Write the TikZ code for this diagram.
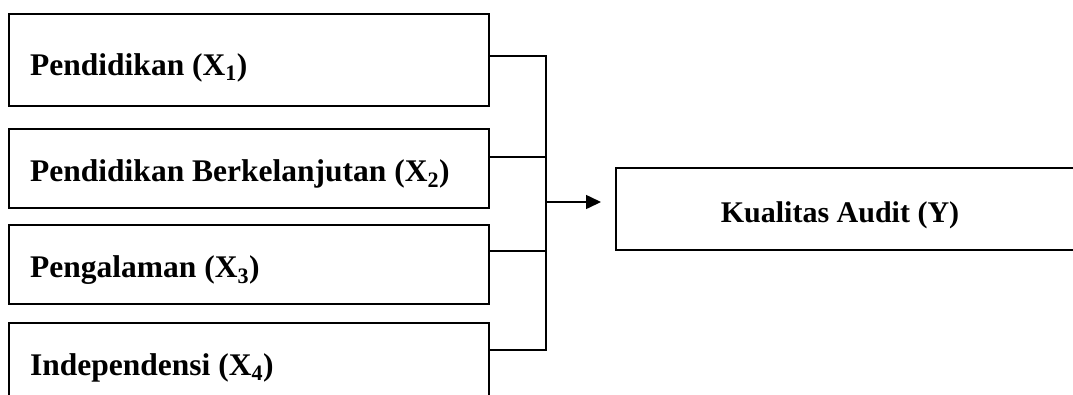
\documentclass[tikz,border=0pt]{standalone}
\usepackage{fontspec}
\setmainfont{Liberation Serif}
\usetikzlibrary{arrows.meta}
\begin{document}
\begin{tikzpicture}[x=1pt,y=-1pt,
  box/.style={draw=black, line width=1.6pt, rectangle, inner sep=0pt, anchor=north west},
  lbl/.style={inner sep=0pt, font=\fontsize{31.5}{38}\selectfont\bfseries},
  ylbl/.style={inner sep=0pt, font=\fontsize{30}{36}\selectfont\bfseries},
  wire/.style={draw=black, line width=1.6pt},
  arr/.style={wire, -{Triangle[length=15pt,width=14pt]}}]
  \useasboundingbox (0,0) rectangle (1073,394);
  \clip (0,0) rectangle (1073,394);
  % independent variables
  \node[box, minimum width=480pt, minimum height=92pt] (b1) at (8,13) {};
  \node[box, minimum width=480pt, minimum height=79pt] (b2) at (8,128) {};
  \node[box, minimum width=480pt, minimum height=79pt] (b3) at (8,224) {};
  \node[box, minimum width=480pt, minimum height=110pt] (b4) at (8,322) {};
  \node[lbl, anchor=base west] (t1) at (30,75) {Pendidikan (X\textsubscript{1})};
  \node[lbl, anchor=base west] (t2) at (30,181) {Pendidikan Berkelanjutan (X\textsubscript{2})};
  \node[lbl, anchor=base west] (t3) at (30,277) {Pengalaman (X\textsubscript{3})};
  \node[lbl, anchor=base west] (t4) at (30,375) {Independensi (X\textsubscript{4})};
  % dependent variable
  \node[box, minimum width=480pt, minimum height=82pt] (y) at (615,167) {};
  \node[ylbl, anchor=base] (ty) at (840,222) {Kualitas Audit (Y)};
  % collecting bus
  \coordinate (j1) at (546,56);
  \coordinate (j2) at (546,157);
  \coordinate (j3) at (546,251);
  \coordinate (j4) at (546,350);
  \coordinate (jm) at (546,202);
  \draw[wire] (b1.east |- j1) -- (j1);
  \draw[wire] (b2.east |- j2) -- (j2);
  \draw[wire] (b3.east |- j3) -- (j3);
  \draw[wire] (b4.east |- j4) -- (j4);
  \draw[wire, line cap=rect] (j1) -- (j4);
  \draw[arr, shorten >=14pt] (jm) -- (y.west |- jm);
\end{tikzpicture}
\end{document}
